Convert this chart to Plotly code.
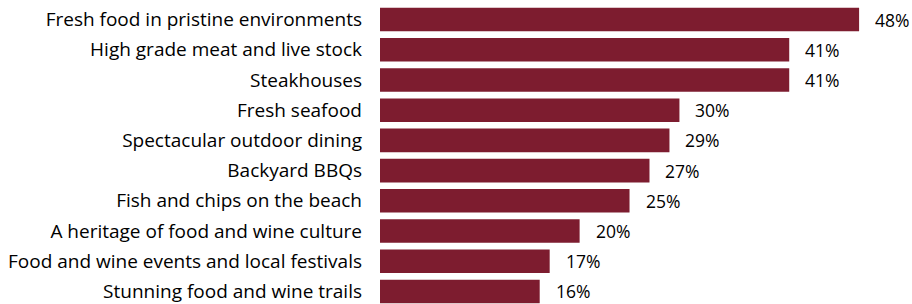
import plotly.graph_objects as go

categories = [
    "Fresh food in pristine environments",
    "High grade meat and live stock",
    "Steakhouses",
    "Fresh seafood",
    "Spectacular outdoor dining",
    "Backyard BBQs",
    "Fish and chips on the beach",
    "A heritage of food and wine culture",
    "Food and wine events and local festivals",
    "Stunning food and wine trails",
]
values = [48, 41, 41, 30, 29, 27, 25, 20, 17, 16]
value_labels = [f"{v}%" for v in values]

BAR_COLOR = "#7D1C2F"
FONT = "Open Sans"
FSIZE = 19

fig = go.Figure(
    go.Bar(
        x=values,
        y=categories,
        orientation="h",
        marker=dict(color=BAR_COLOR, line=dict(width=0)),
        width=0.78,
        hoverinfo="skip",
    )
)

for c, v, t in zip(categories, values, value_labels):
    fig.add_annotation(
        x=v, y=c, text=t, showarrow=False, xanchor="left", yanchor="middle",
        xshift=14, font=dict(family=FONT, size=17.5, color="#000000"),
    )

fig.update_layout(
    width=912,
    height=304,
    margin=dict(l=380, r=0, t=4, b=0),
    paper_bgcolor="white",
    plot_bgcolor="white",
    showlegend=False,
    font=dict(family=FONT, size=FSIZE, color="#000000"),
)
fig.update_xaxes(range=[0, 53.3], visible=False, showgrid=False, zeroline=False)
fig.update_yaxes(
    range=[9.414, -0.513],
    showgrid=False,
    zeroline=False,
    showline=False,
    ticks="",
    ticklabelstandoff=17,
    tickfont=dict(family=FONT, size=FSIZE, color="#000000"),
)

fig.write_html(
    "out.html",
    config={"displayModeBar": False},
    post_script="document.body.style.margin='0';document.body.style.overflow='hidden';",
)
